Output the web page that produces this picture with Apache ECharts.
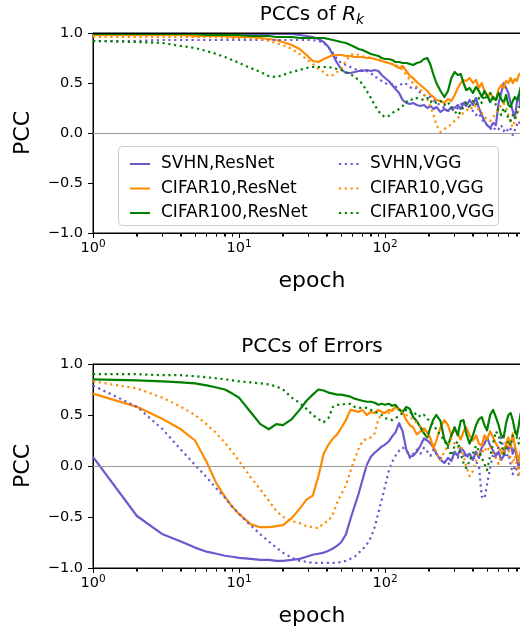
<!DOCTYPE html>
<html><head><meta charset="utf-8">
<script src="https://cdn.jsdelivr.net/npm/echarts@6/dist/echarts.min.js"></script>
<style>html,body{margin:0;padding:0;background:#fff;}#c{width:520px;height:633px;}</style>
</head><body><div id="c"></div>
<script>
// ---- data ----
const epochs = [1,2,3,4,5,6,7,8,9,10,
  12,14,16,18,20,23,26,29,32,35,
  38,41,44,47,50,54,58,62,66,70,
  75,80,85,90,95,100,106,112,118,125,
  132,140,148,156,165,175,185,195,205,215,
  225,240,255,270,285,300,315,330,345,360,
  380,400,420,440,460,480,500,525,550,575,
  600,625,650,675,700,725,750,775,800,825,
  850];
const seriesNames = ['SVHN,ResNet','CIFAR10,ResNet','CIFAR100,ResNet','SVHN,VGG','CIFAR10,VGG','CIFAR100,VGG'];
const titles = ['PCCs of {i|R}{s|k}', 'PCCs of Errors'];
const yTicks = [-1, -0.5, 0, 0.5, 1];
const xMajorTicks = [1, 10, 100, 1000];
const xLabelTicks = [1, 10, 100];
const xMinorTicks = [2,3,4,5,6,7,8,9,20,30,40,50,60,70,80,90,200,300,400,500,600,700,800,900];

// PCCs of R_k
const rkSvhnResNet = [0.99,0.99,0.99,0.99,0.99,0.99,0.99,0.99,0.99,0.99,
  0.99,0.99,0.99,0.99,0.99,0.99,0.98,0.97,0.96,0.94,
  0.91,0.86,0.78,0.70,0.64,0.60,0.60,0.61,0.62,0.62,
  0.63,0.62,0.63,0.62,0.58,0.55,0.52,0.48,0.44,0.40,
  0.33,0.30,0.29,0.30,0.28,0.27,0.28,0.25,0.27,0.24,
  0.26,0.21,0.24,0.22,0.26,0.25,0.28,0.24,0.30,0.27,
  0.33,0.28,0.35,0.25,0.18,0.12,0.08,0.05,0.10,0.08,
  0.30,0.40,0.50,0.45,0.40,0.30,0.22,0.15,0.30,0.38,
  0.25];
const rkCifar10ResNet = [0.98,0.98,0.98,0.98,0.97,0.97,0.97,0.97,0.96,0.96,
  0.96,0.95,0.94,0.93,0.91,0.88,0.84,0.78,0.72,0.71,
  0.74,0.76,0.78,0.78,0.78,0.77,0.77,0.76,0.76,0.76,
  0.75,0.75,0.74,0.73,0.72,0.71,0.70,0.69,0.67,0.65,
  0.67,0.62,0.57,0.55,0.51,0.48,0.45,0.42,0.38,0.36,
  0.33,0.32,0.30,0.34,0.32,0.38,0.45,0.50,0.53,0.52,
  0.55,0.50,0.53,0.45,0.50,0.42,0.36,0.40,0.35,0.33,
  0.44,0.48,0.45,0.52,0.50,0.55,0.50,0.54,0.52,0.58,
  0.60];
const rkCifar100ResNet = [0.99,0.99,0.99,0.99,0.99,0.98,0.98,0.98,0.98,0.98,
  0.97,0.97,0.97,0.96,0.96,0.96,0.95,0.95,0.95,0.95,
  0.95,0.94,0.93,0.92,0.91,0.90,0.88,0.86,0.84,0.83,
  0.81,0.79,0.78,0.77,0.75,0.74,0.74,0.73,0.71,0.71,
  0.70,0.70,0.69,0.68,0.70,0.71,0.74,0.75,0.68,0.58,
  0.50,0.42,0.36,0.42,0.55,0.61,0.58,0.59,0.50,0.43,
  0.45,0.40,0.46,0.42,0.36,0.42,0.38,0.31,0.36,0.33,
  0.40,0.34,0.30,0.38,0.28,0.26,0.32,0.36,0.33,0.38,
  0.46];
const rkSvhnVgg = [0.92,0.92,0.93,0.93,0.93,0.93,0.93,0.93,0.93,0.93,
  0.93,0.93,0.93,0.93,0.93,0.93,0.93,0.93,0.93,0.92,
  0.90,0.86,0.80,0.74,0.70,0.68,0.66,0.64,0.63,0.63,
  0.62,0.60,0.56,0.55,0.52,0.50,0.48,0.49,0.46,0.47,
  0.50,0.49,0.46,0.44,0.45,0.40,0.38,0.36,0.36,0.33,
  0.30,0.28,0.25,0.22,0.24,0.22,0.25,0.28,0.32,0.30,
  0.25,0.22,0.18,0.20,0.14,0.10,0.08,0.05,0.02,0.06,
  0.04,0.08,0.02,0.05,0.01,0.04,-0.02,0.03,0.08,0.12,
  0.06];
const rkCifar10Vgg = [0.96,0.96,0.96,0.96,0.96,0.96,0.96,0.95,0.95,0.95,
  0.95,0.94,0.92,0.90,0.88,0.84,0.79,0.74,0.69,0.64,
  0.61,0.57,0.58,0.61,0.64,0.72,0.78,0.79,0.78,0.77,
  0.76,0.75,0.74,0.73,0.72,0.71,0.70,0.69,0.68,0.66,
  0.63,0.58,0.53,0.50,0.46,0.43,0.38,0.34,0.26,0.18,
  0.08,0.01,0.04,0.06,0.09,0.12,0.15,0.18,0.20,0.22,
  0.26,0.24,0.28,0.23,0.20,0.16,0.14,0.12,0.16,0.20,
  0.24,0.28,0.30,0.25,0.18,0.10,0.06,0.12,0.18,0.24,
  0.26];
const rkCifar100Vgg = [0.92,0.91,0.90,0.87,0.85,0.82,0.79,0.76,0.73,0.70,
  0.65,0.61,0.57,0.56,0.58,0.61,0.63,0.65,0.66,0.66,
  0.66,0.66,0.65,0.64,0.63,0.61,0.59,0.56,0.53,0.49,
  0.42,0.35,0.28,0.22,0.18,0.16,0.17,0.20,0.22,0.24,
  0.27,0.31,0.34,0.33,0.35,0.34,0.33,0.35,0.31,0.33,
  0.30,0.32,0.28,0.31,0.25,0.22,0.18,0.21,0.26,0.30,
  0.27,0.32,0.28,0.35,0.30,0.38,0.33,0.40,0.35,0.28,
  0.22,0.18,0.25,0.20,0.15,0.12,0.18,0.14,0.20,0.25,
  0.30];

// PCCs of Errors
const erSvhnResNet = [0.09,-0.49,-0.67,-0.74,-0.80,-0.84,-0.86,-0.88,-0.89,-0.90,
  -0.91,-0.92,-0.92,-0.93,-0.93,-0.92,-0.91,-0.89,-0.87,-0.86,
  -0.85,-0.83,-0.81,-0.78,-0.75,-0.67,-0.52,-0.39,-0.27,-0.14,
  0.01,0.09,0.13,0.16,0.19,0.21,0.24,0.29,0.33,0.42,
  0.34,0.16,0.09,0.10,0.14,0.20,0.27,0.25,0.22,0.18,
  0.12,0.06,0.03,0.08,0.05,0.14,0.10,0.18,0.15,0.10,
  0.12,0.06,0.14,0.08,0.18,0.22,0.28,0.20,0.15,0.10,
  0.14,0.06,0.10,0.20,0.16,0.22,0.12,0.18,0.08,-0.02,
  0.05];
const erCifar10ResNet = [0.71,0.58,0.46,0.36,0.25,0.04,-0.17,-0.30,-0.40,-0.47,
  -0.57,-0.60,-0.60,-0.59,-0.58,-0.51,-0.42,-0.33,-0.29,-0.10,
  0.12,0.21,0.27,0.31,0.37,0.45,0.55,0.54,0.53,0.55,
  0.50,0.53,0.52,0.55,0.53,0.52,0.55,0.54,0.58,0.56,
  0.53,0.45,0.40,0.38,0.31,0.34,0.37,0.33,0.27,0.17,
  0.25,0.38,0.45,0.40,0.30,0.36,0.32,0.26,0.34,0.38,
  0.30,0.25,0.30,0.22,0.20,0.30,0.26,0.34,0.28,0.22,
  0.18,0.14,0.12,0.22,0.28,0.18,0.32,0.20,0.12,0.05,
  0.15];
const erCifar100ResNet = [0.85,0.84,0.83,0.82,0.81,0.79,0.77,0.75,0.71,0.67,
  0.53,0.41,0.36,0.41,0.40,0.46,0.55,0.64,0.70,0.75,
  0.74,0.72,0.71,0.70,0.70,0.69,0.68,0.66,0.65,0.64,
  0.63,0.63,0.62,0.60,0.61,0.60,0.61,0.59,0.60,0.55,
  0.53,0.58,0.56,0.48,0.44,0.38,0.32,0.28,0.38,0.46,
  0.50,0.44,0.26,0.20,0.30,0.38,0.30,0.44,0.45,0.32,
  0.22,0.30,0.40,0.46,0.48,0.40,0.35,0.50,0.55,0.48,
  0.40,0.30,0.28,0.42,0.50,0.52,0.45,0.35,0.30,0.40,
  0.52];
const erSvhnVgg = [0.79,0.58,0.36,0.16,0.01,-0.11,-0.22,-0.31,-0.40,-0.47,
  -0.58,-0.67,-0.74,-0.80,-0.85,-0.90,-0.93,-0.94,-0.95,-0.95,
  -0.95,-0.95,-0.95,-0.95,-0.94,-0.93,-0.91,-0.89,-0.85,-0.82,
  -0.77,-0.70,-0.60,-0.46,-0.33,-0.20,-0.05,0.04,0.10,0.15,
  0.18,0.16,0.08,0.12,0.16,0.12,0.18,0.14,0.10,0.16,
  0.12,0.08,0.04,0.01,0.06,0.12,0.08,0.14,0.10,0.12,
  0.06,0.10,0.04,0.00,-0.30,-0.32,-0.18,-0.02,0.12,0.08,
  0.20,0.28,0.16,0.08,0.12,0.02,-0.08,0.00,-0.04,-0.10,
  -0.06];
const erCifar10Vgg = [0.83,0.76,0.67,0.58,0.50,0.41,0.32,0.23,0.14,0.05,
  -0.11,-0.23,-0.34,-0.44,-0.50,-0.54,-0.56,-0.59,-0.60,-0.61,
  -0.56,-0.54,-0.47,-0.36,-0.28,-0.19,-0.05,0.07,0.17,0.24,
  0.27,0.28,0.32,0.46,0.51,0.53,0.52,0.55,0.58,0.54,
  0.52,0.50,0.48,0.46,0.42,0.38,0.34,0.30,0.26,0.22,
  0.12,0.06,0.14,0.20,0.27,0.22,0.18,0.20,0.10,0.00,
  -0.10,-0.05,0.05,0.15,0.12,0.18,0.14,0.20,0.12,0.08,
  0.02,0.10,0.18,0.24,0.16,0.08,0.02,0.10,0.00,-0.08,
  0.06];
const erCifar100Vgg = [0.90,0.90,0.89,0.89,0.88,0.87,0.86,0.85,0.84,0.83,
  0.82,0.81,0.80,0.78,0.75,0.67,0.62,0.56,0.50,0.46,
  0.43,0.47,0.58,0.60,0.60,0.61,0.61,0.58,0.57,0.57,
  0.57,0.55,0.53,0.52,0.50,0.47,0.46,0.45,0.47,0.49,
  0.52,0.55,0.53,0.50,0.52,0.48,0.50,0.46,0.44,0.40,
  0.36,0.30,0.25,0.18,0.10,0.20,0.24,0.12,0.03,-0.02,
  0.05,0.12,0.20,0.15,0.08,0.02,-0.04,0.10,0.22,0.34,
  0.30,0.22,0.12,0.18,0.25,0.20,0.30,0.34,0.28,0.22,
  0.30];

const plotValues = [
  [rkSvhnResNet, rkCifar10ResNet, rkCifar100ResNet, rkSvhnVgg, rkCifar10Vgg, rkCifar100Vgg],
  [erSvhnResNet, erCifar10ResNet, erCifar100ResNet, erSvhnVgg, erCifar10Vgg, erCifar100Vgg]
];

// ---- styles ----
const FONT = 'DejaVu Sans';
const colors = ['#6a5acd', '#ff8c00', '#008000', '#6a5acd', '#ff8c00', '#008000'];
const DOT = [2.2, 3.6];
const gridBoxes = [{top: 33, height: 200}, {top: 364, height: 204}];
const titleTops = [3, 335];

const chart = echarts.init(document.getElementById('c'), null, {renderer: 'canvas'});

const grids = [], xAxes = [], yAxes = [], series = [], titleList = [];
gridBoxes.forEach(b => {
  grids.push({left: 93, right: -11, top: b.top, height: b.height, show: true,
    borderColor: '#000', borderWidth: 1, containLabel: false, outerBoundsMode: 'none'});
});

const allXTicks = xMajorTicks.concat(xMinorTicks).sort((a, b) => a - b);

for (let g = 0; g < 2; g++) {
  xAxes.push({
    type: 'log', logBase: 10, gridIndex: g, min: 1, max: 1000, position: 'bottom',
    name: 'epoch', nameLocation: 'middle', nameGap: 37,
    nameTextStyle: {fontSize: 22, fontFamily: FONT, color: '#000'},
    axisLine: {show: true, onZero: false, lineStyle: {color: '#000', width: 1}},
    axisTick: {show: true, length: 3.5, customValues: allXTicks, lineStyle: {color: '#000', width: 1}},
    axisLabel: {
      customValues: xLabelTicks, margin: 6, color: '#000',
      formatter: v => '{b|10}{s|' + Math.round(Math.log10(v)) + '}',
      rich: {
        b: {fontSize: 14.5, fontFamily: FONT, color: '#000', lineHeight: 19},
        s: {fontSize: 10.5, fontFamily: FONT, color: '#000', lineHeight: 11, verticalAlign: 'top'}
      }
    },
    splitLine: {show: false}
  });
  yAxes.push({
    type: 'value', gridIndex: g, min: -1, max: 1, interval: 0.5,
    name: 'PCC', nameLocation: 'middle', nameGap: 59,
    nameTextStyle: {fontSize: 22, fontFamily: FONT, color: '#000'},
    axisLine: {show: true, onZero: false, lineStyle: {color: '#000', width: 1}},
    axisTick: {show: true, length: 5, lineStyle: {color: '#000', width: 1}},
    axisLabel: {fontSize: 14.5, fontFamily: FONT, color: '#000', margin: 10,
      formatter: v => (v < 0 ? '\u2212' : '') + Math.abs(v).toFixed(1)},
    splitLine: {show: false}
  });
}

for (let g = 0; g < 2; g++) {
  plotValues[g].forEach((vals, i) => {
    const s = {
      type: 'line', name: seriesNames[i], xAxisIndex: g, yAxisIndex: g,
      data: epochs.map((e, k) => [e, vals[k]]),
      showSymbol: false, symbol: 'none', smooth: false, animation: false,
      color: colors[i],
      lineStyle: {color: colors[i], width: 2.2, type: i < 3 ? 'solid' : DOT, cap: 'butt', join: 'round'},
      itemStyle: {color: colors[i]},
      emphasis: {disabled: true}
    };
    if (i === 0) {
      s.markLine = {silent: true, symbol: ['none', 'none'], animation: false,
        label: {show: false}, lineStyle: {color: '#999', width: 1, type: 'solid'},
        emphasis: {disabled: true},
        data: [{yAxis: 0}]};
    }
    series.push(s);
  });
  titleList.push({
    text: titles[g], left: 312, top: titleTops[g], textAlign: 'center', padding: 0,
    textStyle: {fontSize: 20, fontWeight: 'normal', fontFamily: FONT, color: '#000', lineHeight: 24,
      rich: {
        i: {fontSize: 20, fontStyle: 'italic', fontFamily: FONT, color: '#000', lineHeight: 24},
        s: {fontSize: 14, fontStyle: 'italic', fontFamily: FONT, color: '#000', lineHeight: 14, verticalAlign: 'bottom'}
      }}
  });
}

const legendCommon = {
  orient: 'vertical', top: 149, itemWidth: 20, itemHeight: 14, itemGap: 4.5,
  selectedMode: false, z: 5,
  itemStyle: {opacity: 0},
  textStyle: {fontSize: 17, fontFamily: FONT, color: '#000', lineHeight: 20, padding: [0, 0, 0, 6]}
};

const frame = {
  type: 'rect', z: 3, silent: true,
  shape: {x: 118.5, y: 146.5, width: 380, height: 79, r: 4},
  style: {fill: 'rgba(255,255,255,0.8)', stroke: '#cccccc', lineWidth: 1}
};

chart.setOption({
  animation: false,
  backgroundColor: '#fff',
  title: titleList,
  grid: grids,
  xAxis: xAxes,
  yAxis: yAxes,
  legend: [
    Object.assign({}, legendCommon, {left: 124, data: seriesNames.slice(0, 3)}),
    Object.assign({}, legendCommon, {left: 333, data: seriesNames.slice(3, 6)})
  ],
  graphic: [frame],
  series: series
});

// crisp top spine and major/minor x ticks, positioned through the axes' own scales
try {
  const gfx = [frame];
  for (let g = 0; g < 2; g++) {
    const pTopL = chart.convertToPixel({gridIndex: g}, [xMajorTicks[0], yTicks[yTicks.length - 1]]);
    const pTopR = chart.convertToPixel({gridIndex: g}, [xMajorTicks[xMajorTicks.length - 1], yTicks[yTicks.length - 1]]);
    if (pTopL && isFinite(pTopL[1])) {
      const yt = Math.round(pTopL[1]) + 0.5;
      gfx.push({type: 'line', silent: true, z: 60,
        shape: {x1: pTopL[0], y1: yt, x2: pTopR[0], y2: yt},
        style: {stroke: '#000', lineWidth: 1}});
    }
    const addTicks = (vals, len) => vals.forEach(v => {
      const p = chart.convertToPixel({gridIndex: g}, [v, yTicks[0]]);
      if (!p || !isFinite(p[0]) || !isFinite(p[1])) return;
      const x = Math.round(p[0] - 0.5) + 0.5;
      const y = Math.round(p[1]);
      gfx.push({type: 'line', silent: true, z: 60,
        shape: {x1: x, y1: y, x2: x, y2: y + len},
        style: {stroke: '#000', lineWidth: 1}});
    });
    addTicks(xMajorTicks, 5);
    addTicks(xMinorTicks, 3.5);
  }
  chart.setOption({graphic: gfx}, {replaceMerge: ['graphic']});
} catch (e) {}
</script></body></html>
